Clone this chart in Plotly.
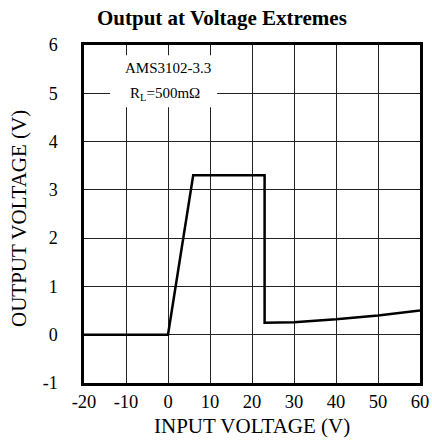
import plotly.graph_objects as go

vin = [-20, 0, 6, 23, 23, 30, 40, 50, 60]
vout = [0, 0, 3.3, 3.3, 0.25, 0.26, 0.32, 0.40, 0.50]

x_ticks = [-20, -10, 0, 10, 20, 30, 40, 50, 60]
y_ticks = [-1, 0, 1, 2, 3, 4, 5, 6]

FONT = "Liberation Serif"

fig = go.Figure()
fig.add_trace(go.Scatter(x=vin, y=vout, mode="lines",
                         line=dict(color="black", width=2.5),
                         showlegend=False, hoverinfo="skip"))

L, R, T, B = 84, 12, 45, 57
W, H = 432, 440

fig.update_layout(
    width=W, height=H,
    margin=dict(l=L, r=R, t=T, b=B, autoexpand=False),
    paper_bgcolor="white", plot_bgcolor="white",
    font=dict(family=FONT, color="black", size=18),
    xaxis=dict(range=[-20, 60], tickvals=x_ticks, ticktext=[str(v) for v in x_ticks],
               showgrid=True, gridcolor="#222", gridwidth=1,
               showline=True, mirror=True, linecolor="black", linewidth=2.5,
               ticks="", zeroline=False, ticklabelstandoff=0, automargin=False,
               tickfont=dict(family=FONT, size=18.5)),
    yaxis=dict(range=[-1, 6], tickvals=y_ticks, ticktext=[str(v) for v in y_ticks],
               showgrid=True, gridcolor="#222", gridwidth=1,
               showline=True, mirror=True, linecolor="black", linewidth=2.5,
               ticks="", zeroline=False, ticklabelstandoff=20, automargin=False,
               tickfont=dict(family=FONT, size=18)),
)

# white box behind the label text
fig.add_shape(type="rect", xref="x", yref="y", x0=-13.8, x1=11.7, y0=4.71, y1=5.79,
              fillcolor="white", line=dict(width=0), layer="above")
fig.add_annotation(x=-0.1, y=5.52, xref="x", yref="y", text="AMS3102-3.3",
                   showarrow=False, font=dict(family=FONT, size=15))
fig.add_annotation(x=-0.8, y=4.98, xref="x", yref="y", text="R<sub>L</sub>=500mΩ",
                   showarrow=False, font=dict(family=FONT, size=15))

# title
fig.add_annotation(x=221.5 / W, y=1 - 18 / H, xref="paper", yref="paper",
                   text="<b>Output at Voltage Extremes</b>", showarrow=False,
                   font=dict(family=FONT, size=21), xanchor="center", yanchor="middle")
# x title
fig.add_annotation(x=252 / W, y=1 - 426 / H, xref="paper", yref="paper",
                   text="INPUT VOLTAGE (V)", showarrow=False,
                   font=dict(family=FONT, size=21), xanchor="center", yanchor="middle")
# y title
fig.add_annotation(x=19 / W, y=1 - 219 / H, xref="paper", yref="paper",
                   text="OUTPUT VOLTAGE (V)", showarrow=False, textangle=-90,
                   font=dict(family=FONT, size=21), xanchor="center", yanchor="middle")

# convert full-figure pixel fractions into plot-area paper coordinates
for a in fig.layout.annotations:
    if a.xref == "paper":
        px = a.x * W
        py = (1 - a.y) * H
        a.x = (px - L) / (W - L - R)
        a.y = 1 - (py - T) / (H - T - B)

fig.write_html("out.html", config={"displayModeBar": False},
               post_script="document.body.style.margin='0';")
